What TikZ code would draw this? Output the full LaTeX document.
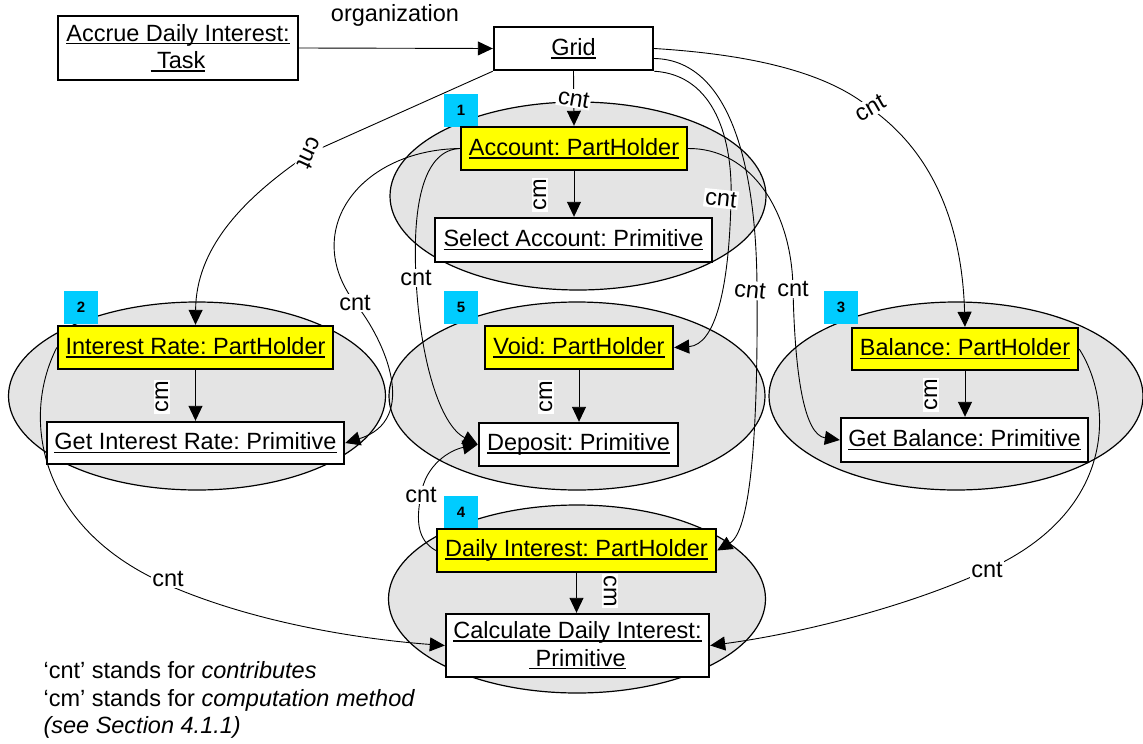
\documentclass[tikz,border=0pt]{standalone}
\usepackage{fontspec}
\setmainfont{Liberation Sans}
\usetikzlibrary{arrows.meta,shapes.geometric}
\frenchspacing

% fixed-depth underline, as used for object names
\newcommand\ulx[1]{\setbox0\hbox{#1}\rlap{\rule[-3.3pt]{\wd0}{1.5pt}}\box0}

\definecolor{ellgray}{RGB}{228,228,228}
\definecolor{partyellow}{RGB}{255,255,0}
\definecolor{badgecyan}{RGB}{0,204,255}

\tikzset{
  base/.style={font=\fontsize{23.5}{27.5}\selectfont},
  grp/.style={ellipse, draw=black, line width=1.2pt, fill=ellgray, inner sep=0pt},
  part/.style={draw=black, line width=2.4pt, fill=partyellow, inner sep=0pt, base, align=center},
  prim/.style={draw=black, line width=2.4pt, fill=white, inner sep=0pt, base, align=center},
  badge/.style={fill=badgecyan, inner sep=0pt, minimum width=34pt, minimum height=33pt,
                font=\bfseries\fontsize{15}{15}\selectfont},
  conn/.style={line width=0.9pt, -{Triangle[length=15pt,width=14pt]}},
  lbl/.style={fill=white, inner sep=1.5pt, base},
}

\begin{document}
\begin{tikzpicture}[x=1pt,y=-1pt]
\useasboundingbox (0,0) rectangle (1143,744);

% grouping ellipses
\node[grp, minimum width=376pt, minimum height=188pt] (g1) at (578,196) {};
\node[grp, minimum width=377pt, minimum height=188pt] (g2) at (197,396) {};
\node[grp, minimum width=376pt, minimum height=188pt] (g5) at (577,396) {};
\node[grp, minimum width=374pt, minimum height=188pt] (g3) at (956,396) {};
\node[grp, minimum width=377pt, minimum height=188pt] (g4) at (577,599) {};

% numbered badges
\node[badge] (b1) at (461,110.5) {1};
\node[badge] (b2) at (81,307.5) {2};
\node[badge] (b5) at (461,307.5) {5};
\node[badge] (b3) at (841,307.5) {3};
\node[badge] (b4) at (461,512) {4};

% objects
\node[prim, minimum width=240pt, minimum height=64pt] (task) at (178,48)
  {\ulx{Accrue Daily Interest:}\\\ulx{\ Task}};
\node[prim, minimum width=159pt, minimum height=43pt] (grid) at (573.5,48.5) {\ulx{Grid}};
\node[part, minimum width=226pt, minimum height=43pt] (acc) at (574,148.5) {\ulx{Account: PartHolder}};
\node[prim, minimum width=277pt, minimum height=44pt] (sel) at (573.5,240) {\ulx{Select Account: Primitive}};
\node[part, minimum width=275pt, minimum height=43pt] (ir) at (195.5,347.5) {\ulx{Interest Rate: PartHolder}};
\node[prim, minimum width=297pt, minimum height=42pt] (gir) at (195.5,443) {\ulx{Get Interest Rate: Primitive}};
\node[part, minimum width=188pt, minimum height=43pt] (void) at (579,347.5) {\ulx{Void: PartHolder}};
\node[prim, minimum width=199pt, minimum height=43pt] (dep) at (578.5,444.5) {\ulx{Deposit: Primitive}};
\node[part, minimum width=226pt, minimum height=42pt] (bal) at (965,349) {\ulx{Balance: PartHolder}};
\node[prim, minimum width=247pt, minimum height=44pt] (gb) at (964.5,440) {\ulx{Get Balance: Primitive}};
\node[part, minimum width=279pt, minimum height=43pt] (di) at (576.5,550.5) {\ulx{Daily Interest: PartHolder}};
\node[prim, minimum width=263pt, minimum height=63pt] (cdi) at (577.5,645.5)
  {\ulx{Calculate Daily Interest:}\\\ulx{\ Primitive}};

% computation-method links
\draw[conn] (acc.south) -- (acc.south |- sel.north);
\draw[conn] (ir.south) -- (ir.south |- gir.north);
\draw[conn] (void.south) -- (void.south |- dep.north);
\draw[conn] (bal.south) -- (bal.south |- gb.north);
\draw[conn] (di.south) -- (di.south |- cdi.north);
\node[lbl, rotate=90] (cm1) at (540,195) {cm};
\node[lbl, rotate=90] (cm2) at (162,397) {cm};
\node[lbl, rotate=90] (cm5) at (546,397) {cm};
\node[lbl, rotate=90] (cm3) at (931,395) {cm};
\node[lbl, rotate=-90] (cm4) at (610,591) {cm};

% organization link
\draw[conn] (task.east) -- (grid.west);
\node[base] (org) at (395,15) {organization};

% contributes links from the grid
\draw[conn] (grid.south) -- node[lbl, rotate=-10] {cnt} (acc.north);
\draw[conn] (grid.south west) -- (310,153) node[lbl, rotate=-115] {cnt}
  .. controls (240,200) and (196,250) .. (ir.north);
\draw[conn] (grid.east) .. controls (760,55) and (830,75) .. (870,108) node[lbl, rotate=30] {cnt}
  .. controls (930,150) and (962,220) .. (bal.north);
\draw[conn] (grid.south east) .. controls (715,75) and (733,140) .. (731,200) node[lbl, rotate=-6, xshift=-10pt] {cnt}
  .. controls (729,290) and (715,345) .. (void.east);
\draw[conn] ([yshift=-10pt]grid.east) .. controls (735,60) and (757,180) .. (757,291) node[lbl, rotate=-6, xshift=-7pt] {cnt}
  .. controls (758,420) and (752,530) .. (di.east);

% contributes links between part holders and primitives
\draw[conn] (acc.west) .. controls (360,150) and (300,230) .. (355,303) node[lbl] {cnt}
  .. controls (385,340) and (420,420) .. (gir.east);
\draw[conn] (acc.west) .. controls (425,150) and (412,200) .. (416,278) node[lbl] {cnt}
  .. controls (420,360) and (440,425) .. (dep.west);
\draw[conn] (acc.east) .. controls (750,148) and (792,210) .. (793,289) node[lbl] {cnt}
  .. controls (795,380) and (805,435) .. (gb.west);
\draw[conn] (di.west) .. controls (417,540) and (416,520) .. (421,495) node[lbl] {cnt}
  .. controls (425,465) and (450,450) .. (dep.west);
\draw[conn] (ir.west) .. controls (20,420) and (40,530) .. (168,585) node[lbl, yshift=6pt] {cnt}
  .. controls (260,625) and (370,640) .. (cdi.west);
\draw[conn] (bal.east) .. controls (1112,400) and (1120,510) .. (987,570) node[lbl] {cnt}
  .. controls (900,610) and (790,635) .. (cdi.east);

% legend
\node[base, anchor=west, align=left] (legend) at (40,700)
  {‘cnt’ stands for \textit{contributes}\\
   ‘cm’ stands for \textit{computation method}\\
   \textit{(see Section 4.1.1)}};
\end{tikzpicture}
\end{document}
